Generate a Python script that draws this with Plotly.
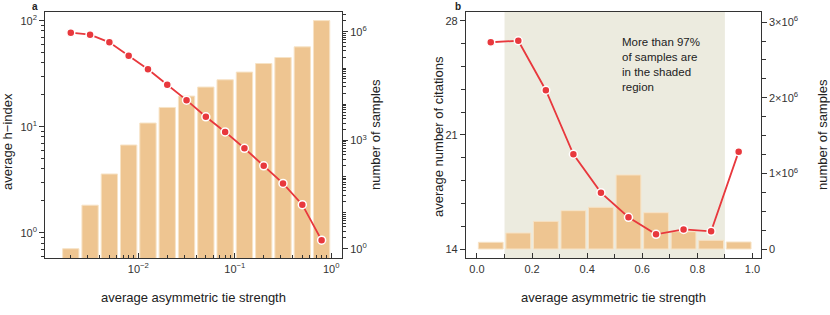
import plotly.graph_objects as go

# ---------------- data ----------------
# panel a (log-binned asymmetric tie strength)
a_tie = [0.001995, 0.003162, 0.005012, 0.007943, 0.01259, 0.01995, 0.03162,
         0.05012, 0.07943, 0.1259, 0.1995, 0.3162, 0.5012, 0.7943]
a_hindex = [77.1, 73.8, 62.5, 46.8, 34.8, 24.9, 17.8, 12.4, 8.93, 6.26, 4.28, 2.92, 1.84, 0.85]
a_samples = [1, 16, 117, 740, 3000, 8100, 16700, 29700, 47200, 77100, 133000, 195000, 385000, 2050000]

# panel b (linear bins)
b_tie = [0.05, 0.15, 0.25, 0.35, 0.45, 0.55, 0.65, 0.75, 0.85, 0.95]
b_citations = [26.68, 26.77, 23.74, 19.82, 17.47, 15.96, 14.92, 15.22, 15.10, 19.98]
b_samples = [89000, 212000, 366000, 507000, 552000, 979000, 480000, 229000, 115000, 93000]

# tick labels
a_x_tickvals = [0.01, 0.1, 1]
a_x_ticktext = ["10<sup>\u22122</sup>", "10<sup>\u22121</sup>", "10<sup>0</sup>"]
a_hidx_tickvals = [1, 10, 100]
a_hidx_ticktext = ["10<sup>0</sup>", "10<sup>1</sup>", "10<sup>2</sup>"]
a_samp_tickvals = [1, 1000, 1000000]
a_samp_ticktext = ["10<sup>0</sup>", "10<sup>3</sup>", "10<sup>6</sup>"]
b_x_tickvals = [0.0, 0.2, 0.4, 0.6, 0.8, 1.0]
b_x_ticktext = ["0.0", "0.2", "0.4", "0.6", "0.8", "1.0"]
b_cit_tickvals = [14, 21, 28]
b_cit_ticktext = ["14", "21", "28"]
b_samp_tickvals = [0, 1000000, 2000000, 3000000]
b_samp_ticktext = ["0", "1\u00d710<sup>6</sup>", "2\u00d710<sup>6</sup>", "3\u00d710<sup>6</sup>"]

BAR = "#EEC591"
BAR_EDGE = "#F7E3C6"
RED = "#E8383D"
SHADE = "#ECEBDF"
AX = "#333333"
FONT = "Liberation Sans, Arial, sans-serif"

# bar extent in log space (half-width in decades) -> linear offsets on the log axis
HALF_DEC = 0.0845
a_lo = [v * 10 ** (-HALF_DEC) for v in a_tie]
a_hi = [v * 10 ** HALF_DEC for v in a_tie]
a_offset = [lo - v for lo, v in zip(a_lo, a_tie)]
a_width = [hi - lo for lo, hi in zip(a_lo, a_hi)]


def minor_log(lo, hi, skip_decades=False):
    vals = []
    for e in range(lo, hi):
        for m in range(2, 10):
            vals.append(m * 10.0 ** e)
        if skip_decades:
            vals.append(10.0 ** e)
    return vals


fig = go.Figure()

fig.add_trace(go.Bar(x=a_tie, y=a_samples, base=1e-3, width=a_width, offset=a_offset,
                     marker=dict(color=BAR, line=dict(color=BAR_EDGE, width=1)),
                     xaxis="x", yaxis="y", showlegend=False))
fig.add_trace(go.Scatter(x=a_tie, y=a_hindex, mode="lines+markers",
                         line=dict(color=RED, width=1.8),
                         marker=dict(color=RED, size=8, line=dict(color="white", width=1.5)),
                         xaxis="x", yaxis="y2", showlegend=False))
fig.add_trace(go.Bar(x=b_tie, y=b_samples, width=0.09,
                     marker=dict(color=BAR, line=dict(color=BAR_EDGE, width=1)),
                     xaxis="x2", yaxis="y3", showlegend=False))
fig.add_trace(go.Scatter(x=b_tie, y=b_citations, mode="lines+markers",
                         line=dict(color=RED, width=1.8),
                         marker=dict(color=RED, size=8, line=dict(color="white", width=1.5)),
                         xaxis="x2", yaxis="y4", showlegend=False))

tickfont = dict(family=FONT, size=11, color=AX)
common = dict(showline=True, linecolor=AX, linewidth=1.2, showgrid=False, zeroline=False,
              tickcolor=AX, tickfont=tickfont, tickmode="array", automargin=False)

ydom = [0.180, 0.962]

fig.update_layout(
    template="none",
    width=830, height=315,
    margin=dict(l=0, r=0, t=0, b=0, pad=0),
    paper_bgcolor="white", plot_bgcolor="white",
    font=dict(family=FONT, color="#222"),
    barmode="overlay",
    xaxis=dict(domain=[0.0546, 0.412], type="log", range=[-2.964, 0.111], anchor="y",
               tickvals=a_x_tickvals, ticktext=a_x_ticktext, ticks="inside", ticklen=5,
               mirror=True,
               minor=dict(tickmode="array", tickvals=minor_log(-3, 0), ticks="inside",
                          ticklen=3, tickcolor=AX),
               **common),
    yaxis=dict(domain=ydom, type="log", range=[-0.265, 6.55], anchor="x", side="right",
               tickvals=a_samp_tickvals, ticktext=a_samp_ticktext, ticks="outside", ticklen=5,
               minor=dict(tickmode="array", tickvals=minor_log(0, 7, True), ticks="outside",
                          ticklen=3, tickcolor=AX),
               **common),
    yaxis2=dict(type="log", range=[-0.241, 2.082], overlaying="y", anchor="x", side="left",
                tickvals=a_hidx_tickvals, ticktext=a_hidx_ticktext, ticks="outside", ticklen=5,
                minor=dict(tickmode="array", tickvals=minor_log(-1, 3), ticks="outside",
                           ticklen=3, tickcolor=AX),
                **common),
    xaxis2=dict(domain=[0.5614, 0.9165], range=[-0.04, 1.03], anchor="y3",
                tickvals=b_x_tickvals, ticktext=b_x_ticktext, ticks="inside", ticklen=5,
                mirror=True,
                minor=dict(dtick=0.1, tick0=0, ticks="inside", ticklen=4, tickcolor=AX),
                **common),
    yaxis3=dict(domain=ydom, range=[-123000, 3135000], anchor="x2", side="right",
                tickvals=b_samp_tickvals, ticktext=b_samp_ticktext, ticks="outside", ticklen=5,
                minor=dict(dtick=250000, tick0=0, ticks="outside", ticklen=4, tickcolor=AX),
                **common),
    yaxis4=dict(range=[13.449, 28.533], overlaying="y3", anchor="x2", side="left",
                tickvals=b_cit_tickvals, ticktext=b_cit_ticktext, ticks="outside", ticklen=5,
                minor=dict(dtick=1.4, tick0=14, ticks="outside", ticklen=4, tickcolor=AX),
                **common),
)

fig.add_shape(type="rect", xref="x2", yref="y3 domain", x0=0.1, x1=0.9, y0=0, y1=1,
              fillcolor=SHADE, line=dict(width=0), layer="below")


def ann(text, x, y, angle=0, size=13, xanchor="center", yanchor="middle", **kw):
    fig.add_annotation(text=text, x=x / 830, y=1 - y / 315, xref="paper", yref="paper",
                       showarrow=False, textangle=angle, xanchor=xanchor, yanchor=yanchor,
                       font=dict(family=FONT, size=size, color="#222"), **kw)


ann("average h\u2212index", 8, 142, angle=-90)
ann("number of samples", 375, 135, angle=-90)
ann("average asymmetric tie strength", 193.5, 297)
ann("average number of citations", 438, 137, angle=-90)
ann("number of samples", 822, 135, angle=-90)
ann("average asymmetric tie strength", 613, 297)
ann("<b>a</b>", 35, 6, size=10)
ann("<b>b</b>", 458, 6, size=10)
ann("More than 97%<br>of samples are<br>in the shaded<br>region", 620, 34, size=11.5,
    xanchor="left", yanchor="top", align="left")

fig.write_html("out.html", config={"displayModeBar": False},
               post_script="document.body.style.margin='0';")
